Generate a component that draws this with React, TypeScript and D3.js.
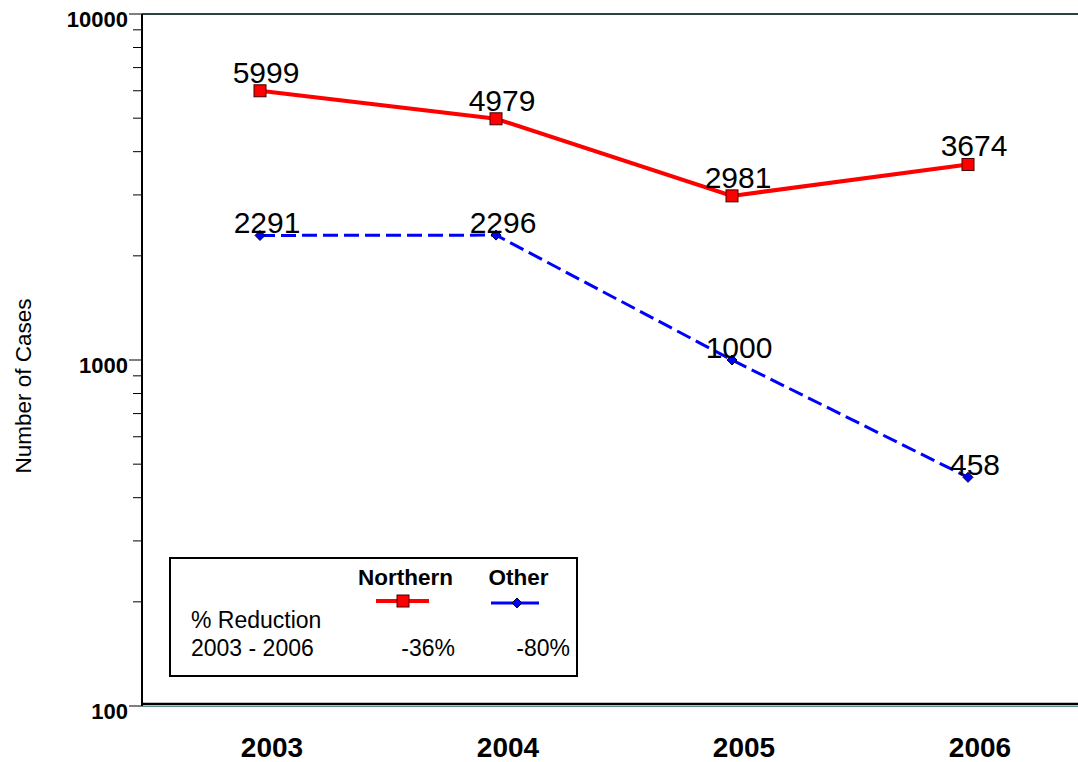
import React from "react";
import * as d3 from "d3";

const years = ["2003", "2004", "2005", "2006"];
const northern = [5999, 4979, 2981, 3674];
const other = [2291, 2296, 1000, 458];
const majorTicks = [100, 1000, 10000];
const legendSeries = ["Northern", "Other"];
const reductions = ["-36%", "-80%"];

const W = 1078, H = 762;
const left = 142, top = 14, bottom = 706;

export default function App() {
  const x = d3.scalePoint<string>().domain(years).range([left, left + 236 * 4]).padding(0.5);
  const y = d3.scaleLog().domain([100, 10000]).range([bottom, top]);
  const minor: number[] = [];
  [100, 1000].forEach((d) => { for (let k = 2; k <= 9; k++) minor.push(d * k); });
  const line = d3.line<number>().x((_, i) => x(years[i])!).y((d) => y(d));
  const font = "Arial, 'Liberation Sans', sans-serif";

  return (
    <svg width={W} height={H} style={{ position: "absolute", left: 0, top: 0 }} fontFamily={font}>
      <rect width={W} height={H} fill="#fff" />
      {/* frame */}
      <line x1={left} x2={W} y1={top} y2={top} stroke="#2f4040" strokeWidth={2} />
      <line x1={left} x2={W} y1={bottom - 2} y2={bottom - 2} stroke="#000" strokeWidth={2.5} />
      <line x1={left} x2={W} y1={bottom + 0.5} y2={bottom + 0.5} stroke="#5a8a8a" strokeWidth={1} />
      <line x1={left} x2={left} y1={top} y2={bottom} stroke="#000" strokeWidth={2} />
      {minor.map((d) => (
        <line key={d} x1={left - 9} x2={left} y1={y(d)} y2={y(d)} stroke="#000" strokeWidth={1} />
      ))}
      {majorTicks.map((d) => (
        <g key={d}>
          <line x1={left - 13} x2={left} y1={y(d)} y2={y(d)} stroke="#000" strokeWidth={1} />
          <text x={128} y={y(d) + 13} textAnchor="end" fontSize={22} fontWeight="bold">{d}</text>
        </g>
      ))}
      <text transform={`translate(31,${(top + bottom) / 2 + 26}) rotate(-90)`} textAnchor="middle" fontSize={22.5}>Number of Cases</text>
      {years.map((yr) => (
        <text key={yr} x={x(yr)! + 12} y={757} textAnchor="middle" fontSize={28} fontWeight="bold">{yr}</text>
      ))}
      {/* series */}
      <path d={line(northern)!} fill="none" stroke="#ff0000" strokeWidth={4} />
      <path d={line(other)!} fill="none" stroke="#0000ff" strokeWidth={3} strokeDasharray="15 6" />
      {northern.map((d, i) => (
        <g key={i}>
          <rect x={x(years[i])! - 6} y={y(d) - 6} width={12} height={12} fill="#ff0000" stroke="#400" strokeWidth={1} />
          <text x={x(years[i])! + 6} y={y(d) - 8} textAnchor="middle" fontSize={30}>{d}</text>
        </g>
      ))}
      {other.map((d, i) => {
        const cx = x(years[i])!, cy = y(d);
        return (
          <g key={i}>
            <path d={`M${cx},${cy - 5}L${cx + 5},${cy}L${cx},${cy + 5}L${cx - 5},${cy}Z`} fill="#0000ff" stroke="#002" strokeWidth={1} />
            <text x={cx + 7} y={cy - 2} textAnchor="middle" fontSize={30}>{d}</text>
          </g>
        );
      })}
      {/* legend */}
      <rect x={170} y={558} width={407} height={118} fill="#fff" stroke="#000" strokeWidth={2} />
      <text x={405.5} y={585} textAnchor="middle" fontSize={22.5} fontWeight="bold">{legendSeries[0]}</text>
      <text x={518.5} y={585} textAnchor="middle" fontSize={22.5} fontWeight="bold">{legendSeries[1]}</text>
      <line x1={376} x2={429} y1={601} y2={601} stroke="#ff0000" strokeWidth={4} />
      <rect x={397} y={595} width={12} height={12} fill="#ff0000" stroke="#400" strokeWidth={1} />
      <line x1={491} x2={539} y1={603} y2={603} stroke="#0000ff" strokeWidth={3} />
      <path d="M517,598L522,603L517,608L512,603Z" fill="#0000ff" stroke="#002" strokeWidth={1} />
      <text x={191} y={628} fontSize={23}>% Reduction</text>
      <text x={191} y={656} fontSize={23}>2003 - 2006</text>
      <text x={455} y={656} textAnchor="end" fontSize={23}>{reductions[0]}</text>
      <text x={570} y={656} textAnchor="end" fontSize={23}>{reductions[1]}</text>
    </svg>
  );
}
